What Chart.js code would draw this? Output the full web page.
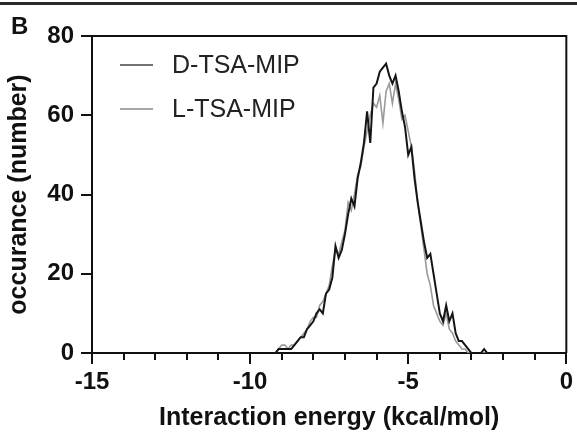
<!DOCTYPE html>
<html>
<head>
<meta charset="utf-8">
<script src="https://cdn.jsdelivr.net/npm/chart.js@4.4.1/dist/chart.umd.min.js"></script>
<style>
  html, body { margin: 0; padding: 0; background: #fff; }
  #wrap { position: relative; width: 577px; height: 441px; overflow: hidden; }
  #rule { position: absolute; left: 0; top: 2px; width: 577px; height: 3px; background: #2a2a2a; }
  #panel { position: absolute; left: 11px; top: 14px; font: bold 24px "Liberation Sans", Arial, sans-serif; color: #111; line-height: 24px; }
  canvas { position: absolute; left: 0; top: 0; }
</style>
</head>
<body>
<div id="wrap">
  <canvas id="c" width="577" height="441"></canvas>
  <div id="rule"></div>
  <div id="panel">B</div>
</div>
<script>
// Interaction energy bins (kcal/mol)
const energies = [-9.2,-9.1,-9.0,-8.9,-8.8,-8.7,-8.6,-8.5,-8.4,-8.3,
  -8.2,-8.1,-8.0,-7.9,-7.8,-7.7,-7.6,-7.5,-7.4,-7.3,
  -7.2,-7.1,-7.0,-6.9,-6.8,-6.7,-6.6,-6.5,-6.4,-6.3,
  -6.2,-6.1,-6.0,-5.9,-5.8,-5.7,-5.6,-5.5,-5.4,-5.3,
  -5.2,-5.1,-5.0,-4.9,-4.8,-4.7,-4.6,-4.5,-4.4,-4.3,
  -4.2,-4.1,-4.0,-3.9,-3.8,-3.7,-3.6,-3.5,-3.4,-3.3,
  -3.2,-3.1,-3.0,-2.9,-2.8,-2.7,-2.6,-2.5];
// Occurance, D-TSA-MIP
const dValues = [0,1,1,1,1,1,2,3,4,4,
  6,7,8,10,11,10,15,16,19,27,
  24,26,30,35,39,37,44,48,53,61,
  53,67,68,71,72,73,70,68,70,66,
  61,57,50,52,44,38,33,28,24,25,
  20,15,10,8,12,8,10,5,3,3,
  2,1,0,0,0,0,1,0];
// Occurance, L-TSA-MIP
const lValues = [0,1,2,2,1,2,2,3,4,5,
  6,8,9,9,12,13,15,17,22,26,
  25,28,31,38,36,40,45,47,52,56,
  60,63,62,65,58,66,68,63,68,64,
  59,60,56,52,46,38,32,26,20,17,
  12,10,8,7,10,6,5,3,2,1,
  1,0,0,0,0,0,0,0];
const seriesNames = ['D-TSA-MIP', 'L-TSA-MIP'];
const xMajorTicks = [-15, -10, -5, 0];
const xMinorTicks = [-14,-13,-12,-11,-9,-8,-7,-6,-4,-3,-2,-1];
const yTicks = [0, 20, 40, 60, 80];

const toPts = vals => energies.map((e, i) => ({ x: e, y: vals[i] }));

const FONT = '"Liberation Sans", Arial, sans-serif';
const AXIS = '#111';

const decor = {
  id: 'decor',
  afterDraw(chart) {
    const { ctx, chartArea: a, scales } = chart;
    ctx.save();
    // top and right frame
    ctx.strokeStyle = AXIS;
    ctx.lineWidth = 2;
    ctx.beginPath();
    ctx.moveTo(a.left, a.top);
    ctx.lineTo(a.right, a.top);
    ctx.lineTo(a.right, a.bottom);
    ctx.stroke();
    // minor x ticks
    ctx.lineWidth = 2;
    ctx.beginPath();
    xMinorTicks.forEach(v => {
      const px = Math.round(scales.x.getPixelForValue(v));
      ctx.moveTo(px, a.bottom);
      ctx.lineTo(px, a.bottom + 7);
    });
    ctx.stroke();
    // legend
    const legendCols = ['#444', '#8a8a8a'];
    const ys = [65, 109];
    chart.data.datasets.forEach((ds, i) => {
      ctx.strokeStyle = legendCols[i];
      ctx.lineWidth = 1.5;
      ctx.beginPath();
      ctx.moveTo(120, ys[i]);
      ctx.lineTo(153, ys[i]);
      ctx.stroke();
      ctx.fillStyle = '#222';
      ctx.font = '25px ' + FONT;
      ctx.textBaseline = 'middle';
      ctx.textAlign = 'left';
      ctx.fillText(ds.label, 172, ys[i] + 1);
    });
    ctx.restore();
  }
};

new Chart(document.getElementById('c'), {
  type: 'line',
  data: {
    datasets: [
      { label: seriesNames[0], data: toPts(dValues), borderColor: '#151515', borderWidth: 2, pointRadius: 0, tension: 0, order: 0 },
      { label: seriesNames[1], data: toPts(lValues), borderColor: '#9a9a9a', borderWidth: 1.6, pointRadius: 0, tension: 0, order: 1 }
    ]
  },
  options: {
    responsive: false,
    animation: false,
    layout: { padding: { left: 0, top: 36, right: 9, bottom: 0 } },
    plugins: { legend: { display: false }, tooltip: { enabled: false } },
    scales: {
      x: {
        type: 'linear', min: -15, max: 0,
        afterBuildTicks: s => { s.ticks = xMajorTicks.map(v => ({ value: v })); },
        afterFit: s => { s.height = 88; },
        ticks: { color: AXIS, font: { family: FONT, size: 24, weight: 'bold' }, padding: 4, maxRotation: 0 },
        grid: { drawOnChartArea: false, drawTicks: true, tickLength: 11, color: AXIS, lineWidth: 2 },
        border: { color: AXIS, width: 2 },
        title: { display: true, text: 'Interaction energy (kcal/mol)', color: AXIS,
                 font: { family: FONT, size: 25, weight: 'bold' }, padding: { top: 0, bottom: 8 } }
      },
      y: {
        type: 'linear', min: 0, max: 80,
        afterBuildTicks: s => { s.ticks = yTicks.map(v => ({ value: v })); },
        afterFit: s => { s.width = 92; },
        ticks: { color: AXIS, font: { family: FONT, size: 24, weight: 'bold' }, padding: 7 },
        grid: { drawOnChartArea: false, drawTicks: true, tickLength: 11, color: AXIS, lineWidth: 2 },
        border: { color: AXIS, width: 2 },
        title: { display: true, text: 'occurance (number)', color: AXIS,
                 font: { family: FONT, size: 25, weight: 'bold' }, padding: { top: 4, bottom: 0 } }
      }
    }
  },
  plugins: [decor]
});
</script>
</body>
</html>
